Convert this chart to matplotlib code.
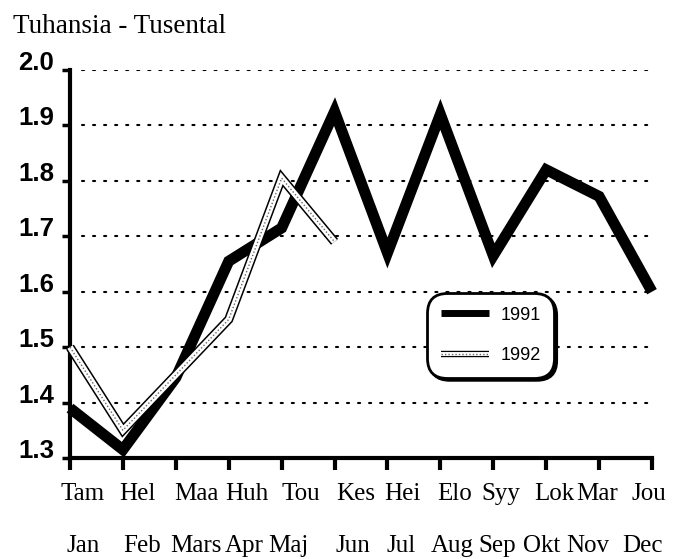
import matplotlib
matplotlib.use("Agg")
import matplotlib.pyplot as plt
import matplotlib.transforms as mtransforms
from matplotlib.lines import Line2D

# ---------------- data ----------------
months_fi = ['Tam', 'Hel', 'Maa', 'Huh', 'Tou', 'Kes', 'Hei', 'Elo', 'Syy', 'Lok', 'Mar', 'Jou']
months_sv = ['Jan', 'Feb', 'Mars', 'Apr', 'Maj', 'Jun', 'Jul', 'Aug', 'Sep', 'Okt', 'Nov', 'Dec']
values_1991 = [1.39, 1.315, 1.445, 1.655, 1.715, 1.925, 1.67, 1.92, 1.665, 1.82, 1.772, 1.60]
values_1992 = [1.50, 1.35, 1.45, 1.55, 1.805, 1.69]
y_ticks = [1.3, 1.4, 1.5, 1.6, 1.7, 1.8, 1.9, 2.0]
y_tick_labels = ['1.3', '1.4', '1.5', '1.6', '1.7', '1.8', '1.9', '2.0']
series_labels = ['1991', '1992']
title_text = 'Tuhansia - Tusental'

# ---------------- layout (pixels) ----------------
fi_offsets_px = [13, 14, 21, 18, 19, 21, 15, 14, 8, 8, -2, -3]
sv_offsets_px = [13, 19, 20, 15, 7, 18, 14, 12, 4, -5, -11, -10]

serif = ['Liberation Serif', 'DejaVu Serif']
sans = ['Liberation Sans', 'DejaVu Sans']

fig = plt.figure(figsize=(6.86, 5.59), dpi=100)
W, H = 686, 559
ax = fig.add_axes([70 / W, 1 - 458 / H, 582 / W, 388 / H])

x1991 = list(range(len(values_1991)))
x1992 = list(range(len(values_1992)))

# grid (dotted) lines
for yv in y_ticks[1:]:
    ax.plot([0.22, 11], [yv, yv], color='black', lw=1.5,
            linestyle=(0, (1, 4.3)), dash_capstyle='round', zorder=1)

# 1991 thick black
h91, = ax.plot(x1991, values_1991, color='black', lw=7.9,
               solid_joinstyle='miter', solid_capstyle='butt', zorder=3,
               clip_on=False)
# 1992 outlined white line with dotted interior
h92a, = ax.plot(x1992, values_1992, color='black', lw=6.6,
                solid_joinstyle='miter', solid_capstyle='butt', zorder=4, clip_on=False)
h92b, = ax.plot(x1992, values_1992, color='white', lw=4.4,
                solid_joinstyle='miter', solid_capstyle='butt', zorder=5, clip_on=False)
h92c, = ax.plot(x1992, values_1992, color='#666666', lw=1.0,
                linestyle=(0, (1, 1.5)), zorder=6, clip_on=False)

ax.set_xlim(0, 11)
ax.set_ylim(1.3, 2.0)

for s in ['top', 'right']:
    ax.spines[s].set_visible(False)
for s in ['left', 'bottom']:
    ax.spines[s].set_linewidth(3.0)
    ax.spines[s].set_capstyle('projecting')

ax.set_xticks(x1991)
ax.set_yticks(y_ticks)
ax.tick_params(axis='x', direction='out', length=8.5, width=3.0, labelbottom=False)
ax.tick_params(axis='y', direction='out', length=6, width=2.5, labelleft=False)

# y tick labels (baseline on the tick)
for yv, lab in zip(y_ticks, y_tick_labels):
    tr = mtransforms.blended_transform_factory(ax.transAxes, ax.transData) + \
        mtransforms.ScaledTranslation(-16 / 100, 0, fig.dpi_scale_trans)
    ax.text(0, yv, lab, transform=tr, ha='right', va='baseline',
            fontsize=18.5, fontweight='bold', family=sans)

# x labels, two rows
for i, (fi, sv) in enumerate(zip(months_fi, months_sv)):
    tr1 = mtransforms.blended_transform_factory(ax.transData, ax.transAxes) + \
        mtransforms.ScaledTranslation(fi_offsets_px[i] / 100, -42 / 100, fig.dpi_scale_trans)
    ax.text(i, 0, fi, transform=tr1, ha='center', va='baseline', fontsize=18, family=serif)
    tr2 = mtransforms.blended_transform_factory(ax.transData, ax.transAxes) + \
        mtransforms.ScaledTranslation(sv_offsets_px[i] / 100, -94 / 100, fig.dpi_scale_trans)
    ax.text(i, 0, sv, transform=tr2, ha='center', va='baseline', fontsize=18, family=serif)

# title
fig.text(13 / W, 1 - 33 / H, title_text, ha='left', va='baseline', fontsize=19.5, family=serif)

# legend (proxy handles sized like the reference key)
p91 = Line2D([], [], color='black', lw=5.0, solid_capstyle='butt')
p92a = Line2D([], [], color='black', lw=4.6, solid_capstyle='butt')
p92b = Line2D([], [], color='white', lw=2.8, solid_capstyle='butt')
p92c = Line2D([], [], color='#666666', lw=1.0, linestyle=(0, (1, 1.5)))
leg = ax.legend([p91, (p92a, p92b, p92c)], series_labels,
                loc='upper left', bbox_to_anchor=(427 / W, 1 - 293 / H),
                bbox_transform=fig.transFigure, borderaxespad=0,
                frameon=True, fancybox=True,
                shadow={'color': 'black', 'alpha': 1.0},
                prop={'family': sans, 'size': 13},
                handlelength=2.7, handletextpad=0.6, labelspacing=1.3,
                borderpad=0.75)
frame = leg.get_frame()
frame.set_edgecolor('black')
frame.set_linewidth(2.0)
frame.set_facecolor('white')
frame.set_alpha(1.0)
frame.set_boxstyle('round', pad=0, rounding_size=1.1)
leg.set_zorder(10)

fig.savefig('out.png', dpi=100)
